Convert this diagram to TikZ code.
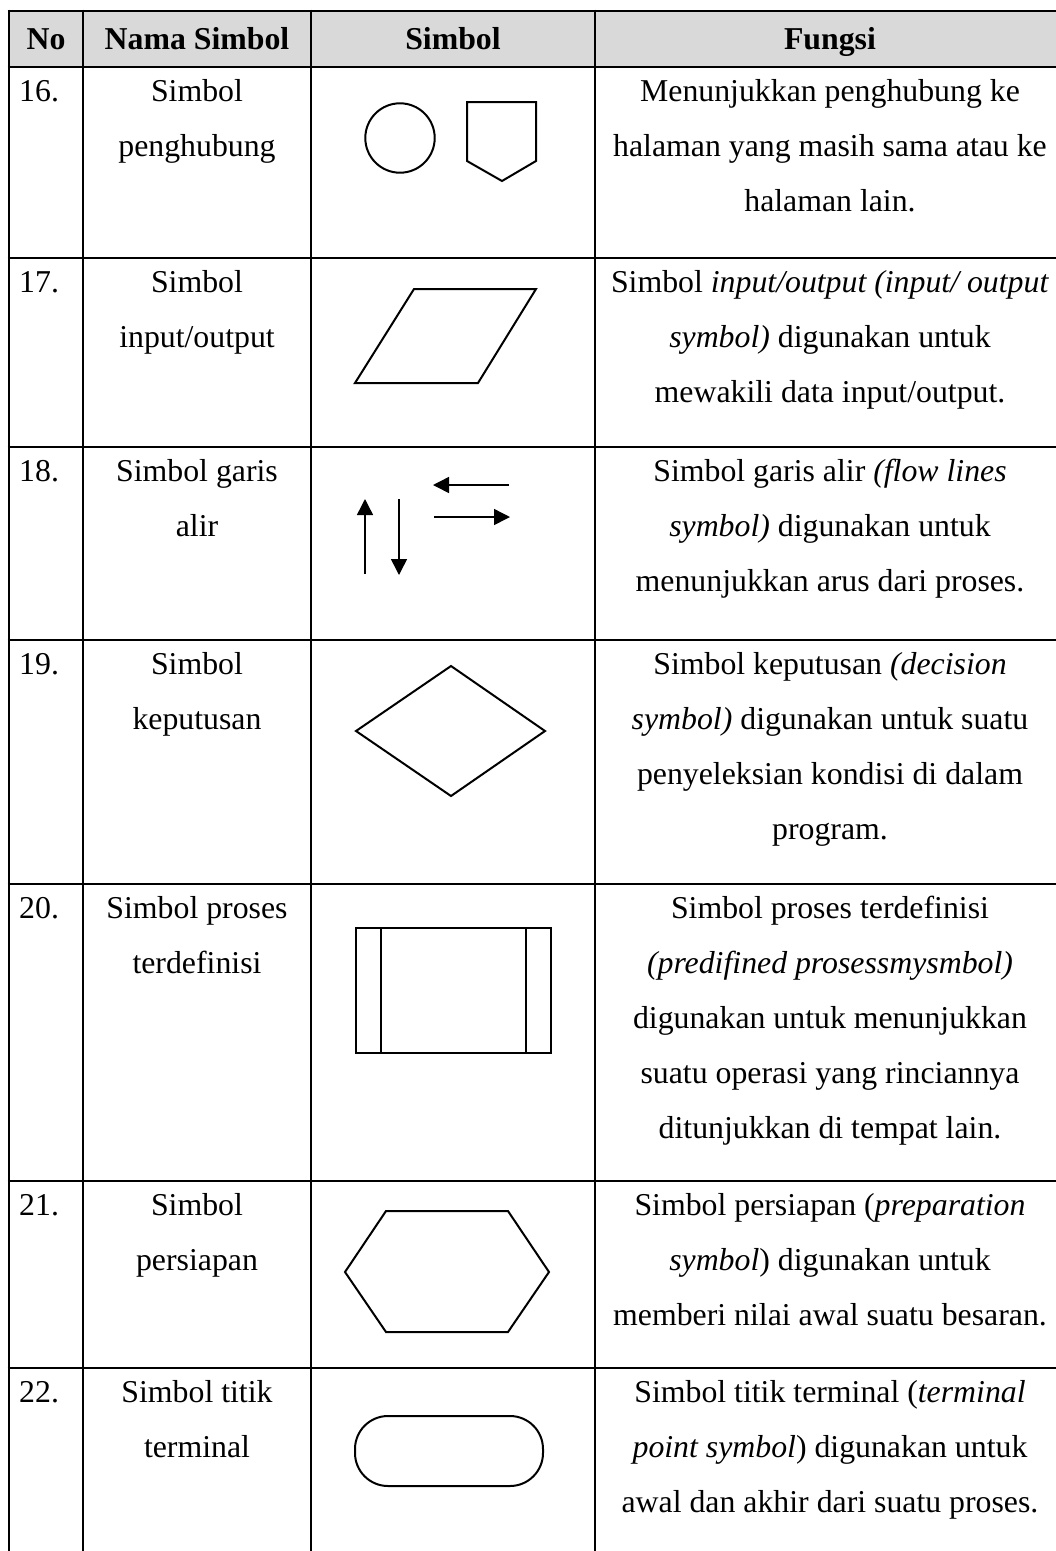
\documentclass[tikz,border=0pt]{standalone}
\usepackage{fontspec}
\setmainfont{Liberation Serif}
\usetikzlibrary{arrows.meta}
\definecolor{headgray}{HTML}{D9D9D9}
\newcommand{\fst}{\rule{0pt}{30pt}}
\tikzset{
  celltxt/.style={font=\fontsize{31.8}{55}\selectfont, align=center, inner sep=0pt, anchor=north},
  numtxt/.style={font=\fontsize{31.8}{55}\selectfont, inner sep=0pt, anchor=base west},
  headtxt/.style={font=\bfseries\fontsize{31.8}{38}\selectfont, inner sep=0pt, anchor=base},
  gridline/.style={line width=2.6pt},
  shp/.style={line width=2pt, line join=miter},
  flow/.style={line width=1.5pt, -{Triangle[length=16pt,width=16pt]}},
}
\begin{document}
\begin{tikzpicture}[x=1pt,y=-1pt]
\useasboundingbox (0,0) rectangle (1056,1551);
\clip (0,0) rectangle (1056,1551);
\fill[white] (0,0) rectangle (1056,1551);
% header
\fill[headgray] (9,11) rectangle (1066,67);
% grid
\foreach \yy in {11,67,258,447,640,884,1181,1368}
  \draw[gridline] (7.7,\yy) -- (1070,\yy);
\foreach \xx in {9,83,311,595,1066}
  \draw[gridline] (\xx,9.7) -- (\xx,1560);
% header texts
\node[headtxt] (hno) at (46,49) {No};
\node[headtxt] (hnama) at (197,49) {Nama Simbol};
\node[headtxt] (hsim) at (453,49) {Simbol};
\node[headtxt] (hfun) at (830,49) {Fungsi};
% numbers
\node[numtxt] (n16) at (19,101) {16.};
\node[numtxt] (n17) at (19,292) {17.};
\node[numtxt] (n18) at (19,481) {18.};
\node[numtxt] (n19) at (19,674) {19.};
\node[numtxt] (n20) at (19,918) {20.};
\node[numtxt] (n21) at (19,1215) {21.};
\node[numtxt] (n22) at (19,1402) {22.};
% names
\node[celltxt] (a16) at (197,71) {\fst Simbol\\penghubung};
\node[celltxt] (a17) at (197,262) {\fst Simbol\\input/output};
\node[celltxt] (a18) at (197,451) {\fst Simbol garis\\alir};
\node[celltxt] (a19) at (197,644) {\fst Simbol\\keputusan};
\node[celltxt] (a20) at (197,888) {\fst Simbol proses\\terdefinisi};
\node[celltxt] (a21) at (197,1185) {\fst Simbol\\persiapan};
\node[celltxt] (a22) at (197,1372) {\fst Simbol titik\\terminal};
% functions
\node[celltxt] (f16) at (830,71) {\fst Menunjukkan penghubung ke\\halaman yang masih sama atau ke\\halaman lain.};
\node[celltxt] (f17) at (830,262) {\fst Simbol \textit{input/output (input/ output}\\\textit{symbol)} digunakan untuk\\mewakili data input/output.};
\node[celltxt] (f18) at (830,451) {\fst Simbol garis alir \textit{(flow lines}\\\textit{symbol)} digunakan untuk\\menunjukkan arus dari proses.};
\node[celltxt] (f19) at (830,644) {\fst Simbol keputusan \textit{(decision}\\\textit{symbol)} digunakan untuk suatu\\penyeleksian kondisi di dalam\\program.};
\node[celltxt] (f20) at (830,888) {\fst Simbol proses terdefinisi\\\textit{(predifined prosessmysmbol)}\\digunakan untuk menunjukkan\\suatu operasi yang rinciannya\\ditunjukkan di tempat lain.};
\node[celltxt] (f21) at (830,1185) {\fst Simbol persiapan (\textit{preparation}\\\textit{symbol}) digunakan untuk\\memberi nilai awal suatu besaran.};
\node[celltxt] (f22) at (830,1372) {\fst Simbol titik terminal (\textit{terminal}\\\textit{point symbol}) digunakan untuk\\awal dan akhir dari suatu proses.};
% symbols
\draw[shp] (400,138) circle (34.7);
\draw[shp] (467,102) -- (536,102) -- (536,161) -- (502,181) -- (467,161) -- cycle;
\draw[shp] (414,289) -- (536,289) -- (478,383) -- (355,383) -- cycle;
\coordinate (u1) at (365,574); \coordinate (u2) at (365,499);
\coordinate (d1) at (399,499); \coordinate (d2) at (399,575);
\coordinate (l1) at (509,485); \coordinate (l2) at (433,485);
\coordinate (r1) at (434,517); \coordinate (r2) at (510,517);
\draw[flow] (u1) -- (u2);
\draw[flow] (d1) -- (d2);
\draw[flow] (l1) -- (l2);
\draw[flow] (r1) -- (r2);
\draw[shp] (451,666) -- (545,731) -- (451,796) -- (356,731) -- cycle;
\draw[shp] (356,928) rectangle (551,1053);
\draw[shp] (381,928) -- (381,1053);
\draw[shp] (526,928) -- (526,1053);
\draw[shp] (345,1272) -- (386,1211) -- (508,1211) -- (549,1272) -- (508,1332) -- (386,1332) -- cycle;
\draw[shp, rounded corners=33pt] (355,1416) rectangle (543,1486);
\end{tikzpicture}
\end{document}
